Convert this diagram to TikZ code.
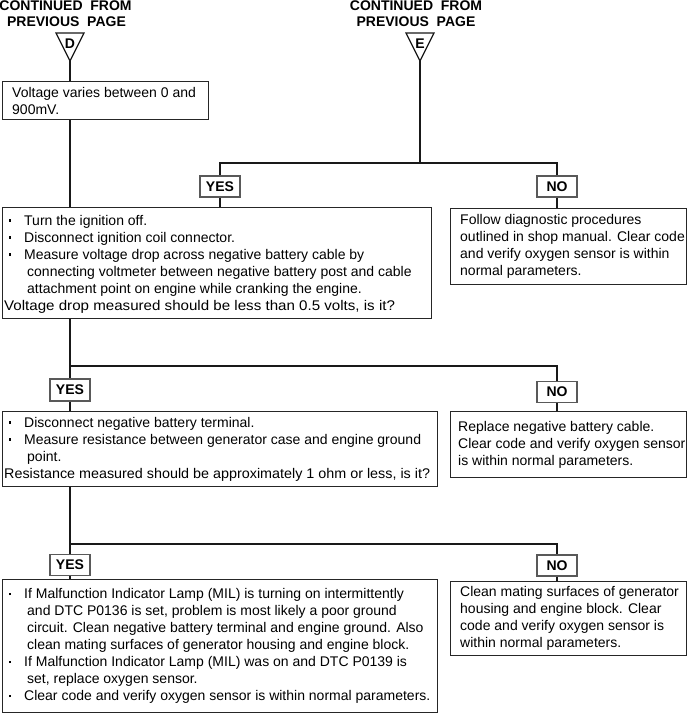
\documentclass[tikz,border=0pt]{standalone}
\usepackage{graphicx}
\usepackage{fontspec}
\setmainfont{Liberation Sans}
\newcommand\bl{\makebox[20pt][l]{\hspace{5pt}\raisebox{3.6pt}{\rule{2.3pt}{2.3pt}}}}
\newcommand\ind{\hspace*{23pt}}
\begin{document}
\begin{tikzpicture}[x=1pt,y=-1pt,
  box/.style={draw=black!85, line width=1.1pt, inner sep=0, anchor=north west},
  yn/.style={draw=black!65, line width=1.4pt, fill=white, font=\bfseries\fontsize{14}{14}\selectfont, minimum width=40pt, minimum height=21pt, inner sep=0},
  txt/.style={inner sep=0, anchor=west, align=left, font=\fontsize{14}{17}\selectfont},
  conn/.style={draw=black!90, line width=1.3pt},
  hdr/.style={font=\bfseries\fontsize{14}{14}\selectfont, inner sep=0},
  tri/.style={draw=black!90, line width=1.2pt, line join=miter}]
\useasboundingbox (0,0) rectangle (687,715);

% headers
\node[hdr] (hD1) at (65.5,6) {CONTINUED\ \ FROM};
\node[hdr] (hD2) at (66.5,22) {PREVIOUS\ \ PAGE};
\node[hdr] (hE1) at (416,6) {CONTINUED\ \ FROM};
\node[hdr] (hE2) at (416,22) {PREVIOUS\ \ PAGE};

% off-page connectors
\draw[tri] (56,33) -- (84,33) -- (70,61) -- cycle;
\coordinate (apexD) at (70,61);
\node[hdr] (lD) at (70,44) {D};
\draw[tri] (406,33) -- (434,33) -- (420,61) -- cycle;
\coordinate (apexE) at (420,61);
\node[hdr] (lE) at (420,44) {E};

% boxes
\node[box, minimum width=206pt, minimum height=38pt] (box1) at (2,81) {};
\node[txt] (t1) at ([xshift=10pt]box1.west) {Voltage varies between 0 and\\900mV.};

\node[box, minimum width=429pt, minimum height=111pt] (box2) at (2,207) {};
\node[txt] (t2) at ([xshift=2pt,yshift=-1pt]box2.west) {\bl Turn the ignition off.\\
\bl Disconnect ignition coil connector.\\
\bl Measure voltage drop across negative battery cable by\\
\ind connecting voltmeter between negative battery post and cable\\
\ind attachment point on engine while cranking the engine.\\
\scalebox{1.08}[1]{Voltage drop measured should be less than 0.5 volts, is it?}};

\node[box, minimum width=236pt, minimum height=76pt] (r1) at (450,208) {};
\node[txt] (tr1) at ([xshift=10pt]r1.west) {Follow diagnostic procedures\\
outlined in shop manual. Clear code\\
and verify oxygen sensor is within\\
normal parameters.};

\node[box, minimum width=435pt, minimum height=75pt] (box3) at (2,411) {};
\node[txt] (t3) at ([xshift=2pt]box3.west) {\bl Disconnect negative battery terminal.\\
\bl Measure resistance between generator case and engine ground\\
\ind point.\\
\scalebox{1.025}[1]{Resistance measured should be approximately 1 ohm or less, is it?}};

\node[box, minimum width=236pt, minimum height=66pt] (r2) at (450,411) {};
\node[txt] (tr2) at ([xshift=8pt]r2.west) {Replace negative battery cable.\\
Clear code and verify oxygen sensor\\
is within normal parameters.};

\node[box, minimum width=435pt, minimum height=133pt] (box4) at (2,579) {};
\node[txt] (t4) at ([xshift=2pt]box4.west) {\bl If Malfunction Indicator Lamp (MIL) is turning on intermittently\\
\ind and DTC P0136 is set, problem is most likely a poor ground\\
\ind circuit. Clean negative battery terminal and engine ground. Also\\
\ind clean mating surfaces of generator housing and engine block.\\
\bl If Malfunction Indicator Lamp (MIL) was on and DTC P0139 is\\
\ind set, replace oxygen sensor.\\
\bl Clear code and verify oxygen sensor is within normal parameters.};

\node[box, minimum width=236pt, minimum height=74pt] (r3) at (450,581) {};
\node[txt] (tr3) at ([xshift=10pt]r3.west) {Clean mating surfaces of generator\\
housing and engine block. Clear\\
code and verify oxygen sensor is\\
within normal parameters.};

% YES / NO boxes
\node[yn] (yes1) at (220,186.5) {YES};
\node[yn] (no1) at (557,186.5) {NO};
\node[yn, minimum height=22pt] (yes2) at (70,390) {YES};
\node[yn] (no2) at (557,392) {NO};
\node[yn] (yes3) at (70,565) {YES};
\node[yn] (no3) at (557,565.5) {NO};

% junctions
\coordinate (j1) at (420,163);
\coordinate (j2) at (70,366);
\coordinate (j3) at (70,544);

% connectors
\draw[conn] (apexD) -- (apexD |- box1.north);
\draw[conn] (apexD |- box1.south) -- (apexD |- box2.north);
\draw[conn] (apexE) -- (j1);
\draw[conn] (yes1.north) |- (j1) -| (no1.north);
\draw[conn] (yes1.south) -- (yes1 |- box2.north);
\draw[conn] (no1.south) -- (no1 |- r1.north);

\draw[conn] (j2 |- box2.south) -- (yes2.north);
\draw[conn] (j2) -| (no2.north);
\draw[conn] (yes2.south) -- (yes2 |- box3.north);
\draw[conn] (no2.south) -- (no2 |- r2.north);

\draw[conn] (j3 |- box3.south) -- (yes3.north);
\draw[conn] (j3) -| (no3.north);
\draw[conn] (yes3.south) -- (yes3 |- box4.north);
\draw[conn] (no3.south) -- (no3 |- r3.north);
\end{tikzpicture}
\end{document}
